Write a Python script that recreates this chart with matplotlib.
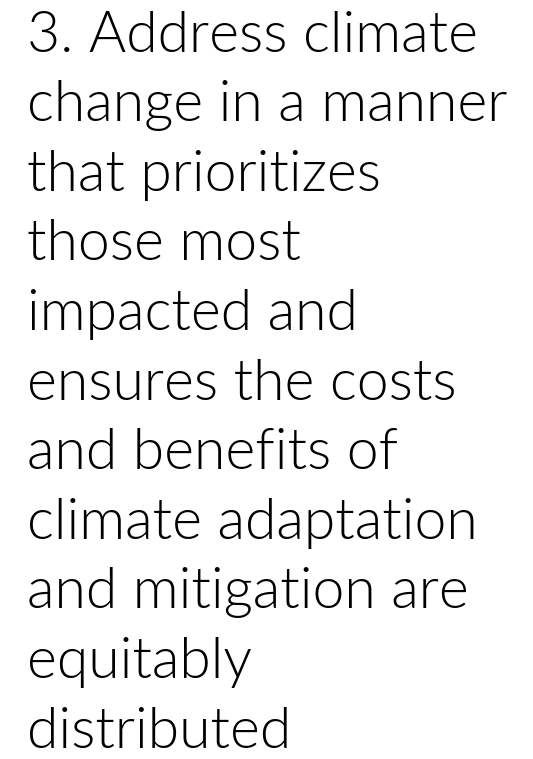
import matplotlib.pyplot as plt

lines = [
    "3. Address climate",
    "change in a manner",
    "that prioritizes",
    "those most",
    "impacted and",
    "ensures the costs",
    "and benefits of",
    "climate adaptation",
    "and mitigation are",
    "equitably",
    "distributed",
]

W, H = 533, 759
fig = plt.figure(figsize=(W / 100, H / 100), dpi=100)
fig.patch.set_facecolor('white')

top = 51.5    # baseline of first line, px from top
pitch = 69.6  # line spacing, px
for i, s in enumerate(lines):
    y = top + i * pitch
    fig.text(27 / W, 1 - y / H, s, fontsize=41, family='Lato',
             fontweight=300, color='#000000', va='baseline', ha='left')

fig.savefig('out.png', dpi=100, facecolor='white')
